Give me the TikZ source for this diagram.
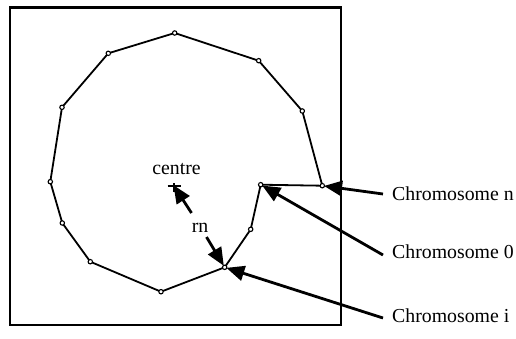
\documentclass[tikz,border=0pt]{standalone}
\usepackage{fontspec}
\setmainfont{Liberation Serif}
\usetikzlibrary{arrows.meta}
\begin{document}
\begin{tikzpicture}[x=1pt,y=-1pt,
  vtx/.style={circle,draw,fill=white,line width=1.1pt,inner sep=0pt,minimum size=4.4pt},
  lbl/.style={font=\fontsize{19.8}{22}\selectfont,inner sep=0pt},
  chrom/.style={lbl,anchor=west,inner xsep=9pt},
  ptr/.style={line width=2.8pt,-{Triangle[length=18pt,width=15pt]},shorten >=-1pt},
  poly/.style={line width=1.8pt,line join=round}]
\useasboundingbox (0,0) rectangle (516,338);
\draw[line width=2.2pt] (10,7.5) rectangle (341,325);
% vertices
\coordinate (v0) at (260.7,184.7);
\coordinate (vn) at (322.3,185.7);
\coordinate (v1) at (302.3,111);
\coordinate (v2) at (258.7,60.7);
\coordinate (v3) at (174.7,33);
\coordinate (v4) at (108.3,53.3);
\coordinate (v5) at (62,107.3);
\coordinate (v6) at (50.3,181.7);
\coordinate (v7) at (62.3,223);
\coordinate (v8) at (90.3,261.7);
\coordinate (v9) at (161,291.7);
\coordinate (vi) at (224.7,267.3);
\coordinate (v10) at (250.7,229.3);
\draw[poly] (v0) -- (vn) -- (v1) -- (v2) -- (v3) -- (v4) -- (v5) -- (v6) -- (v7) -- (v8) -- (v9) -- (vi) -- (v10) -- cycle;
\foreach \p in {v0,vn,v1,v2,v3,v4,v5,v6,v7,v8,v9,vi,v10}
  \node[vtx] (n\p) at (\p) {};
% centre
\coordinate (c) at (174,186);
\draw[line width=1.8pt] (167.5,186) -- (180.5,186) (174,183) -- (174,192);
\node[lbl] (ctext) at (176.5,169) {centre};
\node[lbl] (rn) at (200,227.5) {rn};
\draw[ptr] (191.5,213) -- (c);
\draw[ptr] (206.5,237) -- (nvi);
% labels
\node[chrom] (ln) at (383,194) {Chromosome n};
\node[chrom] (l0) at (383,252) {Chromosome 0};
\node[chrom] (li) at (383,316) {Chromosome i};
\draw[ptr] (ln.west) -- (nvn);
\draw[ptr] ([yshift=-3pt]l0.west) -- (nv0);
\draw[ptr] ([yshift=-2pt]li.west) -- (nvi);
\end{tikzpicture}
\end{document}
